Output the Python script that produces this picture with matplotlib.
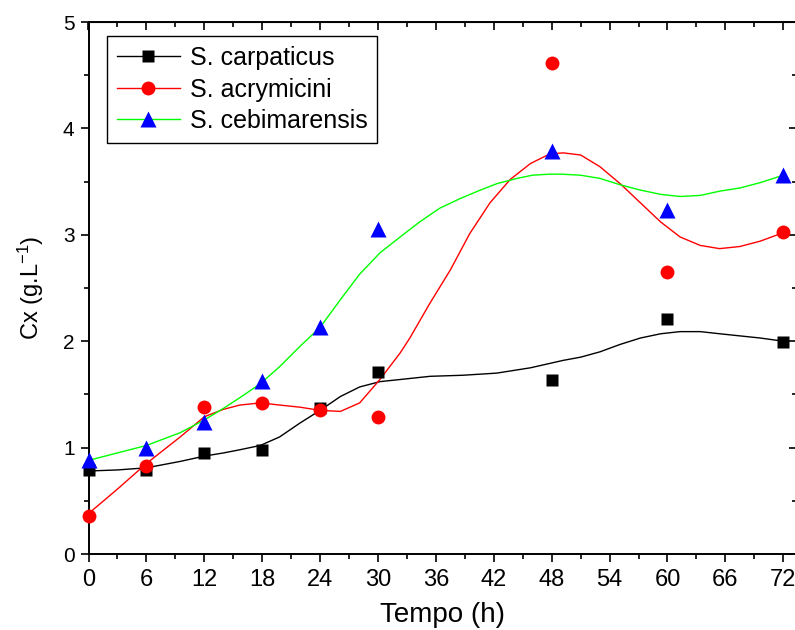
import matplotlib
matplotlib.use("Agg")
import matplotlib.pyplot as plt
from matplotlib.lines import Line2D
from matplotlib.ticker import MultipleLocator

plt.rcParams['font.family'] = ['Liberation Sans', 'DejaVu Sans']
plt.rcParams['mathtext.fontset'] = 'custom'
plt.rcParams['mathtext.rm'] = 'Liberation Sans'
plt.rcParams['mathtext.it'] = 'Liberation Sans'

# measured points
time_h = [0, 6, 12, 18, 24, 30, 48, 60, 72]
carpaticus = [0.79, 0.79, 0.95, 0.98, 1.37, 1.71, 1.64, 2.21, 1.99]
acrymicini = [0.36, 0.83, 1.38, 1.42, 1.35, 1.29, 4.61, 2.65, 3.03]
cebimarensis = [0.88, 1.00, 1.24, 1.63, 2.13, 3.05, 3.79, 3.23, 3.56]

# fitted curves
fit_t_carp = [0, 3, 6, 9.5, 12, 14, 15.7, 17.8, 19.8, 21.9, 24, 26.1, 28.1, 30.2, 32.3, 35.4,
              38.8, 42.3, 45.8, 49.2, 51, 53, 55.1, 57.2, 59.3, 61.3, 63.4, 65.4, 67.5, 69.6, 72]
fit_carp = [0.78, 0.79, 0.81, 0.87, 0.92, 0.95, 0.98, 1.02, 1.10, 1.23, 1.35, 1.48, 1.57, 1.62, 1.64, 1.67,
            1.68, 1.70, 1.75, 1.82, 1.85, 1.90, 1.97, 2.03, 2.07, 2.09, 2.09, 2.07, 2.05, 2.03, 2.00]

fit_t_acry = [0, 3, 6, 9.5, 12, 14, 15.7, 17.8, 19.8, 21.9, 24, 26.1, 28.1, 30.2, 32.3, 33.3, 35.4,
              37.5, 39.5, 41.6, 43.7, 45.8, 47.8, 49.2, 51, 53, 55.1, 57.2, 59.3, 61.3, 63.4, 65.4,
              67.5, 69.6, 72]
fit_acry = [0.38, 0.61, 0.85, 1.10, 1.29, 1.36, 1.40, 1.42, 1.40, 1.38, 1.35, 1.34, 1.42, 1.64, 1.89, 2.03, 2.36,
            2.67, 3.01, 3.30, 3.52, 3.67, 3.76, 3.77, 3.75, 3.64, 3.48, 3.30, 3.12, 2.98, 2.90, 2.87,
            2.89, 2.94, 3.02]

fit_t_cebi = [0, 3, 6, 9.5, 12, 14, 15.7, 17.8, 19.8, 21.9, 24, 26.1, 28.1, 30.2, 32.3, 34.3, 36.4,
              38.5, 40.6, 42.3, 44.4, 46, 47.8, 49, 51, 53, 55.1, 57.2, 59.3, 61.3, 63.4, 65.4, 67.5,
              69.6, 72]
fit_cebi = [0.88, 0.95, 1.02, 1.14, 1.26, 1.37, 1.47, 1.60, 1.76, 1.95, 2.13, 2.39, 2.63, 2.83, 2.98, 3.12, 3.25,
            3.34, 3.42, 3.48, 3.53, 3.56, 3.57, 3.57, 3.56, 3.53, 3.47, 3.42, 3.38, 3.36, 3.37, 3.41, 3.44,
            3.49, 3.56]

labels = ['S. carpaticus', 'S. acrymicini', 'S. cebimarensis']
x_ticks = [0, 6, 12, 18, 24, 30, 36, 42, 48, 54, 60, 66, 72]
y_ticks = [0, 1, 2, 3, 4, 5]

GREEN = '#00ff00'

fig = plt.figure(figsize=(7.95, 6.3), dpi=100)
ax = fig.add_axes([88.5 / 795, 1 - 554 / 630, 708.3 / 795, 532 / 630])

ax.plot(fit_t_carp, fit_carp, color='black', lw=1.0, zorder=2)
ax.plot(fit_t_acry, fit_acry, color='#ff0000', lw=1.0, zorder=2)
ax.plot(fit_t_cebi, fit_cebi, color=GREEN, lw=1.0, zorder=2)

ax.plot(time_h, carpaticus, 's', color='black', ms=8.5, mec='none', zorder=3, clip_on=False)
ax.plot(time_h, acrymicini, 'o', color='#ff0000', ms=10, mec='none', zorder=3, clip_on=False)
ax.plot(time_h, cebimarensis, '^', color='#0000ff', ms=11, mec='none', zorder=3, clip_on=False)

ax.set_xlim(0, 73.4)
ax.set_ylim(0, 5)
ax.set_xticks(x_ticks)
ax.set_yticks(y_ticks)
ax.xaxis.set_minor_locator(MultipleLocator(3))
ax.yaxis.set_minor_locator(MultipleLocator(0.5))
ax.tick_params(which='both', direction='out', width=1.2, top=False, right=False)
ax.tick_params(which='major', length=6)
ax.tick_params(which='minor', length=3.5)
ax.tick_params(axis='y', labelsize=15, pad=4)
ax.tick_params(axis='x', labelsize=15, pad=5)
for lab in ax.get_xticklabels():
    lab.set_family(['Liberation Sans Narrow', 'Liberation Sans'])
    lab.set_fontsize(17)
for sp in ax.spines.values():
    sp.set_linewidth(1.4)

sx = ax.secondary_xaxis('top')
sx.set_xticks(x_ticks)
sx.xaxis.set_minor_locator(MultipleLocator(3))
sx.tick_params(which='both', direction='in', width=1.2, labeltop=False)
sx.tick_params(which='major', length=6)
sx.tick_params(which='minor', length=3.5)
sy = ax.secondary_yaxis('right')
sy.set_yticks(y_ticks)
sy.yaxis.set_minor_locator(MultipleLocator(0.5))
sy.tick_params(which='both', direction='in', width=1.2, labelright=False)
sy.tick_params(which='major', length=6)
sy.tick_params(which='minor', length=3.5)

ax.set_xlabel('Tempo (h)', fontsize=20, family=['Liberation Sans Narrow', 'Liberation Sans'], labelpad=8)
ax.set_ylabel('Cx (g.L$^{-1}$)', fontsize=17, labelpad=12)

handles = [
    Line2D([], [], color='black', lw=1.0, marker='s', ms=8.5, mfc='black', mec='none'),
    Line2D([], [], color='#ff0000', lw=1.0, marker='o', ms=10, mfc='#ff0000', mec='none'),
    Line2D([], [], color=GREEN, lw=1.0, marker='^', ms=11, mfc='#0000ff', mec='none'),
]
leg = ax.legend(handles, labels, loc='upper left',
                bbox_to_anchor=((107 - 88.5) / 708.3, 1 - (36 - 22) / 532),
                borderaxespad=0, fontsize=18, fancybox=False, edgecolor='black',
                framealpha=1, handlelength=2.5, handletextpad=0.4,
                labelspacing=0.3, borderpad=0.4)
leg.get_frame().set_linewidth(1.0)

fig.savefig('out.png', dpi=100)
